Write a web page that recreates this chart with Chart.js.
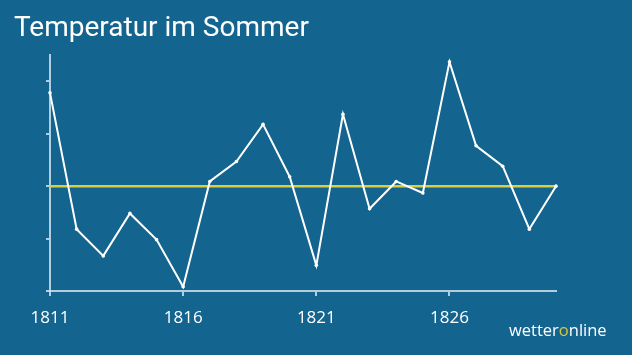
<!DOCTYPE html>
<html>
<head>
<meta charset="utf-8">
<script src="https://cdn.jsdelivr.net/npm/chart.js@4"></script>
<style>
  html, body { margin: 0; padding: 0; background: #13648f; }
  #wrap { position: relative; width: 632px; height: 355px; }
  #logo {
    position: absolute; left: 509px; top: 322px;
    font-family: "Open Sans", sans-serif; font-size: 16.5px; line-height: 1;
    color: #ffffff; white-space: nowrap;
  }
  #logo span { color: #d8c73a; }
</style>
</head>
<body>
<div id="wrap">
  <canvas id="chart" width="632" height="355"></canvas>
  <div id="logo">wetter<span>o</span>nline</div>
</div>
<script>
// =========================
// DATA
// =========================
const years = [1811, 1812, 1813, 1814, 1815, 1816, 1817, 1818, 1819, 1820,
               1821, 1822, 1823, 1824, 1825, 1826, 1827, 1828, 1829, 1830]
// abweichung vom mittel (ohne skala im bild, geschaetzt)
const temps = [1.78, -0.82, -1.33, -0.52, -1.02, -1.92, 0.09, 0.47, 1.18, 0.18,
               -1.51, 1.37, -0.43, 0.09, -0.13, 2.37, 0.77, 0.38, -0.82, 0.0]
const mittel = 0
const xTicks = [1811, 1816, 1821, 1826]
const yTicks = [-2, -1, 0, 1, 2]

const axisColor = "rgba(215,232,244,0.8)"

const tempPoints = years.map((y, i) => ({ x: y, y: temps[i] }))
const meanPoints = [
    { x: years[0], y: mittel },
    { x: years[years.length - 1], y: mittel }
]

const ctx = document.getElementById("chart")

new Chart(ctx, {
    type: "line",
    data: {
        datasets: [
            {
                label: "Temperatur",
                data: tempPoints,
                borderColor: "#ffffff",
                borderWidth: 2,
                pointRadius: 1.8,
                pointBackgroundColor: "#ffffff",
                pointBorderWidth: 0,
                tension: 0,
                clip: false,
                order: 1
            },
            {
                label: "Mittel",
                data: meanPoints,
                borderColor: "#dccd3c",
                borderWidth: 2.5,
                pointRadius: 0,
                clip: false,
                order: 2
            }
        ]
    },
    options: {
        responsive: false,
        animation: false,
        layout: { padding: { left: 14, right: 76, top: 0, bottom: 0 } },
        plugins: {
            legend: { display: false },
            tooltip: { enabled: false },
            title: {
                display: true,
                text: "Temperatur im Sommer",
                align: "start",
                color: "#ffffff",
                font: { family: "Roboto", size: 28, weight: "normal" },
                padding: { top: 12.5, bottom: 9 }
            }
        },
        scales: {
            x: {
                type: "linear",
                min: years[0],
                max: years[years.length - 1],
                afterBuildTicks: s => { s.ticks = xTicks.map(v => ({ value: v })) },
                afterFit: s => { s.height = 64 },
                border: { display: true, color: axisColor, width: 2 },
                grid: { display: true, drawOnChartArea: false, drawTicks: true, tickLength: 5, color: axisColor, lineWidth: 2 },
                ticks: {
                    color: "#ffffff",
                    font: { family: "Open Sans", size: 17 },
                    padding: 12,
                    maxRotation: 0,
                    autoSkip: false,
                    callback: v => String(v)
                }
            },
            y: {
                min: -2,
                max: 2.5,
                afterBuildTicks: s => { s.ticks = yTicks.map(v => ({ value: v })) },
                afterFit: s => { s.width = 36 },
                border: { display: true, color: axisColor, width: 2 },
                grid: { display: true, drawOnChartArea: false, drawTicks: true, tickLength: 4, color: axisColor, lineWidth: 2 },
                ticks: { display: false }
            }
        }
    }
})
</script>
</body>
</html>
